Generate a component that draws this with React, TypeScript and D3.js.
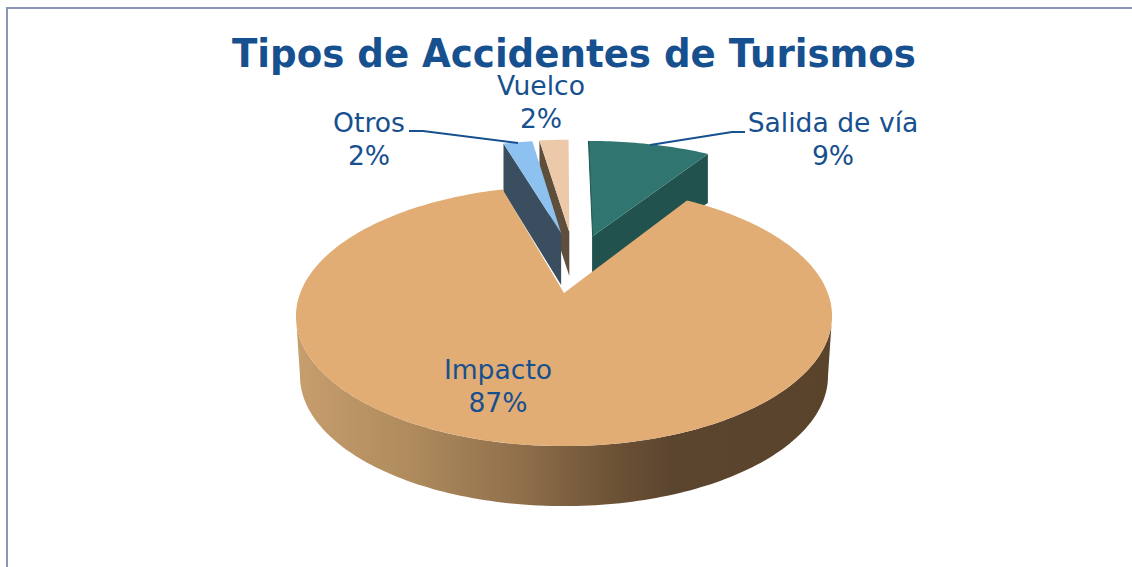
import React from "react";
import * as d3 from "d3";

const categories = ["Salida de vía", "Impacto", "Otros", "Vuelco"];
const shares = [9, 86.6, 2.2, 2.2];
const percentLabels = ["9%", "87%", "2%", "2%"];
const topColors = ["#30756f", "#e2ad74", "#8dc1f0", "#ecc9a8"];
const wallColors = ["#21524e", "#5c452c", "#3b4e60", "#5e4e3c"];
const explodeU = [0.118, 0, -0.012, 0.022];
const explodeV = [-0.49, 0, -0.52, -0.53];
const sliceScale = [1.045, 1, 1.02, 1.02];
const apexDepth = [38, 0, 52, 44];
const outerDepth = [49, 0, 48, 44];
const gradientOffsets = [0, 0.22, 0.42, 0.6, 0.7, 1];
const gradientColors = ["#c79e6e", "#ae8a5c", "#8f6f4b", "#6b5135", "#5c452f", "#5a432b"];

const W = 1132;
const H = 567;
const INK = "#17508f";
const FONT = "'DejaVu Sans', Verdana, sans-serif";

const apexX = 564;
const apexY = 293;
const A = 263.8;
const B = 126;
const P = -0.177;
const MAIN_DROP = 60;
const BASE_SHRINK = 0.985;

const project = (u: number, v: number): [number, number] => {
  const d = 1 + P * v;
  return [apexX + (A * u) / d, apexY + (B * v) / d];
};

const pieArcs = d3.pie<number>().sort(null).startAngle(0).endAngle(2 * Math.PI)(shares);
const line = d3.line();

const rimAngles = (a0: number, a1: number) => {
  const n = Math.max(8, Math.ceil((a1 - a0) / 0.02));
  return d3.range(n + 1).map((i) => a0 + ((a1 - a0) * i) / n);
};

const rimPoint = (i: number, t: number) =>
  project(explodeU[i] + sliceScale[i] * Math.sin(t), explodeV[i] - sliceScale[i] * Math.cos(t));

const topPath = (i: number) => {
  const { startAngle, endAngle } = pieArcs[i];
  const rim = rimAngles(startAngle, endAngle).map((t) => rimPoint(i, t));
  return line([project(explodeU[i], explodeV[i]), ...rim]) + "Z";
};

// The cut wall along one straight edge of an exploded slice.
const cutWall = (i: number, angle: number) => {
  const [ax, ay] = project(explodeU[i], explodeV[i]);
  const [ex, ey] = rimPoint(i, angle);
  return (
    line([
      [ax, ay],
      [ex, ey],
      [ex, ey + outerDepth[i]],
      [ax, ay + apexDepth[i]],
    ]) + "Z"
  );
};

// Thin dark seam down the first edge of a slice, as far as the foot of its wall.
const seam = (i: number) => {
  const [ax, ay] = project(explodeU[i], explodeV[i]);
  return line([rimPoint(i, pieArcs[i].startAngle), [ax, ay], [ax, ay + apexDepth[i]]]) ?? "";
};

const mainWall = () => {
  const t0 = Math.acos(P);
  const near = rimAngles(t0, 2 * Math.PI - t0);
  const top = near.map((t) => project(Math.sin(t), -Math.cos(t)));
  const bottom = top
    .map(([x, y]) => [apexX + (x - apexX) * BASE_SHRINK, y + MAIN_DROP] as [number, number])
    .reverse();
  return line([...top, ...bottom]) + "Z";
};

const Label = ({ i, x, y }: { i: number; x: number; y: number }) => (
  <text x={x} textAnchor="middle" fontFamily={FONT} fontSize={26.6} fill={INK}>
    <tspan x={x} y={y}>{categories[i]}</tspan>
    <tspan x={x} y={y + 33}>{percentLabels[i]}</tspan>
  </text>
);

export default function App() {
  const salidaEdge = pieArcs[0].endAngle;
  const otrosEdge = pieArcs[2].startAngle;
  const vuelcoEdge = pieArcs[3].startAngle;
  return (
    <svg
      width={W}
      height={H}
      viewBox={`0 0 ${W} ${H}`}
      style={{ position: "fixed", left: 0, top: 0, background: "#fff" }}
    >
      <defs>
        <linearGradient id="wallGrad" gradientUnits="userSpaceOnUse" x1={apexX - 268} x2={apexX + 268} y1={0} y2={0}>
          {gradientOffsets.map((o, k) => (
            <stop key={k} offset={o} stopColor={gradientColors[k]} />
          ))}
        </linearGradient>
      </defs>

      <path d="M7 567V8H1132" fill="none" stroke="#8a96b5" strokeWidth={2} />

      <text
        x={574}
        y={67}
        textAnchor="middle"
        fontFamily={FONT}
        fontWeight="bold"
        fontSize={38.5}
        fill={INK}
        textLength={684}
        lengthAdjust="spacingAndGlyphs"
      >
        Tipos de Accidentes de Turismos
      </text>

      <path d={cutWall(0, salidaEdge)} fill={wallColors[0]} />
      <path d={topPath(0)} fill={topColors[0]} />
      <path d={seam(0)} fill="none" stroke={wallColors[0]} strokeWidth={1} />
      <path d={cutWall(3, vuelcoEdge)} fill={wallColors[3]} />
      <path d={topPath(3)} fill={topColors[3]} />
      <path d={cutWall(2, otrosEdge)} fill={wallColors[2]} />
      <path d={topPath(2)} fill={topColors[2]} />
      <path d={mainWall()} fill="url(#wallGrad)" />
      <path d={topPath(1)} fill={topColors[1]} />

      <polyline points="409,131 423,131 518,143" fill="none" stroke={INK} strokeWidth={2} />
      <polyline points="650,145 732,132 745,132" fill="none" stroke={INK} strokeWidth={2} />

      <Label i={0} x={833} y={132} />
      <Label i={1} x={498} y={379} />
      <Label i={2} x={369} y={132} />
      <Label i={3} x={541} y={95} />
    </svg>
  );
}
